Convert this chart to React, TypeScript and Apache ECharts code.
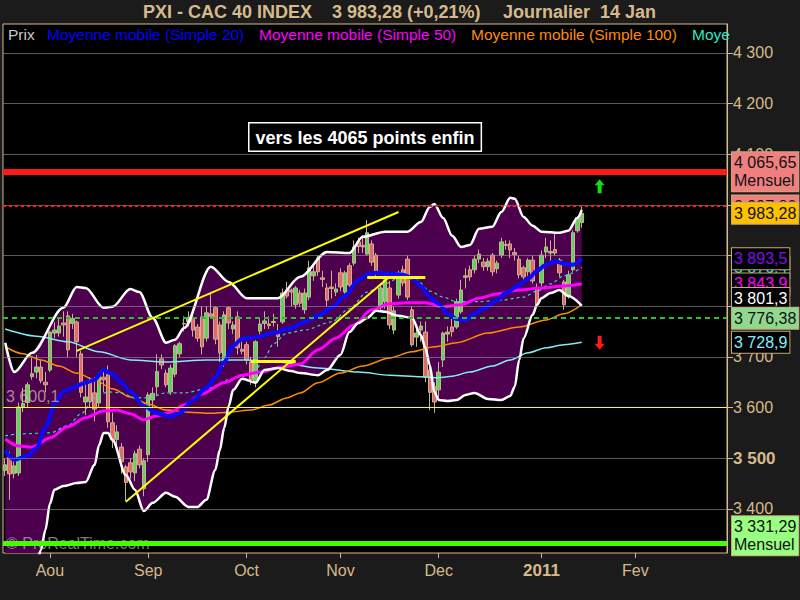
import React, { useEffect, useRef } from 'react';
import * as echarts from 'echarts';

const FONT = '"Liberation Sans", Arial, sans-serif';
const TAN = '#d6ba8c';
const TAG_BORDER = '#c8a878';

// ---- categories (trading days) ----
const startDate = '2010-07-19';
const slotCount = 162;
const lastLabelledSlot = 150;
const monthNames = ['', 'Fev', 'Mar', 'Avr', 'Mai', 'Jun', 'Jul', 'Aou', 'Sep', 'Oct', 'Nov', 'Dec'];

function buildTradingDays(start: string, count: number): string[] {
  const out: string[] = [];
  const d = new Date(start + 'T12:00:00Z');
  while (out.length < count) {
    const wd = d.getUTCDay();
    if (wd !== 0 && wd !== 6) out.push(d.toISOString().slice(0, 10));
    d.setUTCDate(d.getUTCDate() + 1);
  }
  return out;
}
const categories = buildTradingDays(startDate, slotCount);

// ---- price data ----
const open = [3476,3501,3470,3471,3600,3610,3661,3670,3680,3650,3674,3747,3747,3767,3781,3766,3769,3706,3611,3649,3629,3609,3660,3665,3570,3537,3522,3483,3491,3471,3518,3440,3507,3615,3641,3696,3668,3631,3666,3706,3766,3769,3777,3759,3779,3737,3785,3797,3763,3688,3797,3755,3779,3715,3724,3690,3649,3751,3766,3765,3770,3745,3769,3832,3832,3803,3826,3793,3818,3860,3895,3856,3836,3838,3828,3866,3828,3880,3885,3927,3920,3903,3923,3901,3797,3809,3836,3753,3822,3872,3893,3793,3739,3753,3749,3674,3641,3635,3694,3745,3759,3759,3789,3857,3872,3872,3893,3887,3878,3901,3874,3901,3922,3923,3906,3893,3876,3868,3891,3836,3846,3907,3908,3912,3891,3848,3822,3872,3949,3965];
const high = [3500,3513,3495,3610,3639,3650,3698,3704,3693,3670,3752,3768,3775,3790,3790,3785,3772,3712,3650,3660,3660,3670,3678,3683,3590,3565,3530,3487,3500,3515,3525,3500,3630,3640,3705,3705,3675,3685,3725,3730,3780,3790,3790,3765,3800,3800,3825,3800,3770,3790,3800,3770,3790,3730,3730,3700,3733,3775,3790,3780,3785,3765,3835,3848,3835,3840,3832,3835,3890,3880,3900,3870,3845,3870,3845,3875,3870,3885,3930,3935,3940,3970,3930,3905,3845,3860,3850,3800,3870,3880,3900,3800,3755,3770,3770,3680,3650,3690,3750,3760,3775,3815,3852,3875,3880,3900,3912,3895,3895,3905,3890,3935,3930,3930,3915,3900,3880,3895,3900,3845,3910,3935,3930,3945,3895,3852,3870,3950,3978,3997];
const low = [3465,3418,3460,3465,3591,3600,3655,3658,3648,3630,3670,3737,3740,3740,3700,3755,3700,3620,3585,3600,3573,3600,3630,3560,3520,3515,3470,3415,3460,3455,3480,3425,3493,3600,3625,3676,3640,3625,3660,3700,3750,3760,3740,3730,3705,3730,3775,3725,3690,3680,3755,3745,3705,3705,3685,3645,3640,3745,3755,3755,3760,3720,3765,3815,3800,3795,3800,3785,3812,3850,3860,3838,3800,3815,3820,3830,3825,3838,3880,3905,3905,3900,3880,3860,3790,3795,3755,3745,3815,3840,3812,3720,3720,3730,3650,3595,3590,3615,3680,3730,3740,3755,3785,3835,3850,3865,3885,3870,3870,3860,3865,3895,3912,3895,3890,3855,3850,3860,3845,3800,3840,3895,3890,3900,3858,3793,3815,3868,3945,3955];
const close = [3487,3469,3485,3601,3608,3645,3667,3680,3653,3645,3749,3753,3761,3763,3714,3776,3730,3630,3621,3612,3597,3661,3655,3572,3537,3552,3493,3452,3473,3509,3487,3495,3625,3628,3671,3684,3645,3678,3722,3726,3765,3777,3753,3737,3720,3787,3780,3735,3708,3783,3767,3763,3718,3711,3694,3655,3730,3765,3771,3762,3768,3740,3826,3820,3828,3836,3806,3826,3876,3868,3868,3853,3812,3835,3834,3838,3866,3842,3917,3918,3917,3945,3887,3866,3836,3852,3763,3791,3866,3846,3818,3724,3747,3761,3660,3630,3611,3670,3747,3749,3750,3809,3832,3860,3858,3893,3903,3878,3889,3868,3885,3927,3920,3911,3902,3862,3858,3891,3850,3803,3901,3917,3905,3905,3866,3803,3862,3945,3975,3983.28];

// ---- indicators, read as [day index, value] ----
const bbUpper = [[0,3728],[2,3670],[6,3708],[13,3797],[16,3838],[18,3836],[22,3797],[24,3799],[28,3834],[30,3828],[33,3777],[36,3728],[38,3734],[40,3757],[46,3878],[50,3848],[54,3816],[61,3816],[66,3858],[72,3907],[77,3905],[80,3937],[85,3947],[90,3947],[93,3966],[95,3996],[96,4002],[98,3974],[100,3939],[102,3917],[104,3921],[106,3953],[109,3957],[111,3986],[113,4014],[114,4012],[116,3976],[118,3959],[120,3947],[124,3945],[126,3949],[128,3974],[129,3990]];
const bbLower = [[0,3180],[4,3220],[7,3290],[8,3319],[9,3359],[10,3410],[11,3438],[13,3445],[16,3451],[18,3453],[20,3487],[21,3526],[22,3550],[23,3550],[24,3536],[27,3467],[29,3438],[31,3396],[33,3412],[36,3432],[38,3424],[41,3404],[43,3404],[45,3418],[47,3477],[48,3516],[49,3560],[50,3603],[51,3635],[53,3657],[56,3649],[58,3674],[61,3678],[64,3672],[66,3668],[70,3664],[72,3674],[75,3704],[77,3749],[79,3767],[81,3777],[83,3791],[85,3789],[88,3781],[91,3777],[93,3743],[94,3718],[95,3684],[96,3631],[97,3615],[99,3613],[101,3615],[103,3625],[105,3629],[108,3617],[111,3615],[113,3623],[114,3641],[115,3694],[116,3737],[118,3783],[119,3803],[120,3816],[122,3826],[124,3832],[126,3820],[129,3801.3]];
const ma20Pts = [[0,3516],[2,3497],[5,3505],[7,3520],[9,3560],[11,3607],[13,3631],[15,3639],[18,3649],[20,3655],[22,3674],[24,3666],[26,3649],[28,3631],[31,3603],[34,3589],[37,3582],[39,3589],[42,3615],[45,3639],[47,3659],[49,3690],[51,3722],[53,3736],[56,3739],[60,3747],[64,3757],[67,3769],[70,3781],[73,3797],[76,3820],[79,3852],[81,3862],[83,3866],[86,3864],[89,3862],[91,3856],[93,3840],[95,3818],[97,3805],[99,3785],[101,3775],[103,3773],[105,3785],[107,3795],[110,3812],[112,3826],[115,3842],[117,3854],[119,3870],[121,3882],[123,3889],[125,3884],[127,3882],[129,3893.5]];
const ma50Pts = [[0,3538],[3,3524],[6,3522],[10,3540],[14,3562],[18,3580],[22,3593],[25,3595],[28,3588],[31,3576],[34,3584],[37,3591],[40,3605],[44,3627],[49,3649],[53,3664],[57,3670],[62,3680],[66,3686],[70,3714],[74,3737],[78,3763],[82,3793],[86,3805],[90,3807],[94,3807],[98,3799],[102,3803],[106,3816],[110,3824],[115,3832],[120,3836],[125,3840],[129,3843.9]];
const ma100Pts = [[0,3720],[4,3706],[8,3694],[12,3682],[16,3668],[20,3655],[24,3637],[28,3621],[32,3607],[36,3595],[41,3591],[46,3589],[50,3591],[55,3595],[59,3605],[63,3619],[66,3629],[70,3649],[75,3668],[80,3682],[86,3698],[91,3710],[96,3720],[101,3728],[108,3747],[115,3759],[121,3773],[125,3785],[129,3803]];
const ma200Pts = [[0,3755],[7,3741],[14,3730],[21,3710],[28,3694],[36,3690],[45,3694],[54,3694],[61,3690],[70,3678],[79,3670],[86,3664],[93,3661],[97,3659],[100,3662],[104,3670],[109,3682],[113,3694],[117,3708],[121,3718],[125,3724],[129,3728.9]];
const dashedPts = [[0,3544],[3,3548],[10,3550],[14,3564],[17,3588],[20,3619],[23,3631],[26,3629],[29,3619],[32,3619],[36,3629],[40,3629],[46,3639],[50,3655],[53,3661],[56,3674],[58,3698],[60,3726],[63,3747],[67,3753],[73,3769],[77,3795],[81,3828],[85,3844],[88,3856],[92,3852],[95,3830],[98,3818],[101,3809],[106,3809],[111,3812],[116,3818],[119,3830],[122,3844],[125,3860],[129,3876.4]];

// ---- annotations ----
const yTicks = [3400, 3500, 3600, 3700, 3800, 3900, 4000, 4100, 4200, 4300];
const yTicksCoveredByTags = [3800, 3900, 4000];
const trendLines = [[16, 3712, 88, 3986, 2], [27, 3414, 86, 3858, 2], [55, 3692, 65, 3692, 3], [81, 3857, 94, 3857, 3]];
const monthlyHigh = 4065.65;
const resistance = 3997.8;
const supportGreen = 3776.38;
const supportYellow = 3600.1;
const monthlyLow = 3331.29;
const arrowsUp = [[133, 4037]];
const arrowsDown = [[133, 3728]];

const fmtFr = (v: number, d: number) => {
  const [i, f] = v.toFixed(d).split('.');
  const ii = i.replace(/\B(?=(\d{3})+(?!\d))/g, ' ');
  return f ? ii + ',' + f : ii;
};
const last = (a: number[][]) => a[a.length - 1][1];

const isMonthStart = (index: number) =>
  index > 0 && index <= lastLabelledSlot && categories[index].slice(5, 7) !== categories[index - 1].slice(5, 7);

const tag = (text: string, bg: string, color = '#111', extra: any = {}) => ({
  show: true,
  position: 'end',
  formatter: text,
  backgroundColor: bg,
  color,
  borderColor: TAG_BORDER,
  borderWidth: 1,
  padding: [2, 2, 1, 2],
  fontSize: 16,
  fontFamily: FONT,
  lineHeight: 18,
  distance: 5,
  ...extra,
});
const HIDDEN_LINE = { color: 'rgba(0,0,0,0)', width: 0 };
const ARROW = 'path://M5,0 L10,6 L7,6 L7,14 L3,14 L3,6 L0,6 Z';

export default function App() {
  const ref = useRef<HTMLDivElement>(null);
  useEffect(() => {
    if (!ref.current) return;
    const chart = echarts.init(ref.current, undefined, { renderer: 'svg' });

    const candleData = open.map((o, i) => [o, close[i], low[i], high[i]]);
    const lineS = (data: number[][], color: string, width: number, extra: any = {}) => ({
      type: 'line', data, symbol: 'none', showSymbol: false, silent: true, z: 3,
      smooth: 0.3, smoothMonotone: 'x',
      lineStyle: { color, width, ...extra },
    });

    const markLineData: any[] = [
      { yAxis: monthlyHigh, lineStyle: { color: '#ff1a1a', width: 6, type: 'solid' }, label: tag(fmtFr(monthlyHigh, 2) + '\nMensuel', '#f08080') },
      { yAxis: resistance, lineStyle: { color: '#ff2020', width: 2, type: [3, 3] }, label: tag(fmtFr(resistance, 2), '#f08080') },
      { yAxis: close[close.length - 1], lineStyle: HIDDEN_LINE, label: tag(fmtFr(close[close.length - 1], 2), '#ffc000') },
      { yAxis: last(dashedPts), lineStyle: HIDDEN_LINE, label: tag(fmtFr(last(dashedPts), 1), '#000', '#30e0c8') },
      { yAxis: last(ma20Pts), lineStyle: HIDDEN_LINE, label: tag(fmtFr(last(ma20Pts), 1), '#000', '#7a10e8') },
      { yAxis: last(ma50Pts), lineStyle: HIDDEN_LINE, label: tag(fmtFr(last(ma50Pts), 1), '#000', '#ff00ff') },
      { yAxis: last(bbLower), lineStyle: HIDDEN_LINE, label: tag(fmtFr(last(bbLower), 1), '#000', '#ffffff', { offset: [0, -7] }) },
      { yAxis: supportGreen, lineStyle: { color: '#2cc02c', width: 2, type: [5, 4] }, label: tag(fmtFr(supportGreen, 2), '#90d890') },
      { yAxis: last(ma200Pts), lineStyle: HIDDEN_LINE, label: tag(fmtFr(last(ma200Pts), 1), '#000', '#80f0ff') },
      { yAxis: supportYellow, lineStyle: { color: '#ffff00', width: 1, type: 'solid' },
        label: { show: true, position: 'insideStartTop', formatter: fmtFr(supportYellow, 1), color: 'rgba(200,188,175,0.75)', fontSize: 16, fontFamily: FONT, distance: 3 } },
      { yAxis: monthlyLow, lineStyle: { color: '#44ff00', width: 5, type: 'solid' }, label: tag(fmtFr(monthlyLow, 2) + '\nMensuel', '#98ff80', '#111', { offset: [0, -8] }) },
      ...trendLines.map(([k1, v1, k2, v2, w]) => [
        { coord: [k1, v1], lineStyle: { color: '#ffff00', width: w, type: 'solid' }, label: { show: false } },
        { coord: [k2, v2] },
      ]),
    ];

    const option: any = {
      animation: false,
      backgroundColor: '#1b1b1b',
      textStyle: { fontFamily: FONT },
      grid: { left: 3, right: 73, top: 24, bottom: 47, show: true, backgroundColor: '#000', borderColor: TAN, borderWidth: 1 },
      xAxis: {
        type: 'category', data: categories, boundaryGap: true,
        axisLine: { show: false },
        axisTick: { show: true, interval: isMonthStart, alignWithLabel: true, length: 5, lineStyle: { color: TAN } },
        axisLabel: {
          interval: isMonthStart, color: TAN, fontSize: 16, fontFamily: FONT, margin: 9,
          formatter: (v: string) => {
            const m = +v.slice(5, 7) - 1;
            return m === 0 ? '{b|' + v.slice(0, 4) + '}' : monthNames[m];
          },
          rich: { b: { fontWeight: 'bold', fontSize: 17, color: TAN, fontFamily: FONT } },
        },
        splitLine: { show: false },
      },
      yAxis: {
        type: 'value', position: 'right', min: 3313, max: 4357, splitNumber: 10,
        axisLine: { show: true, lineStyle: { color: TAN } },
        axisTick: { show: true, length: 6, lineStyle: { color: TAN } },
        axisLabel: {
          color: TAN, fontSize: 16, fontFamily: FONT, margin: 6, showMinLabel: false, showMaxLabel: false,
          formatter: (v: number) => {
            if (yTicksCoveredByTags.includes(v)) return '';
            return v === 3500 ? '{b|' + fmtFr(v, 0) + '}' : fmtFr(v, 0);
          },
          rich: { b: { fontWeight: 'bold', fontSize: 17, color: TAN, fontFamily: FONT } },
        },
        splitLine: { show: false },
      },
      series: [
        {
          type: 'custom', z: 1, silent: true, data: [[0, 3500]],
          renderItem: (params: any, api: any) => {
            const cs = params.coordSys;
            const cy = (y: number) => Math.max(cs.y, Math.min(cs.y + cs.height, y));
            const top = bbUpper.map(([k, v]) => { const p = api.coord([k, v]); return [p[0], cy(p[1])]; });
            const bot = bbLower.map(([k, v]) => { const p = api.coord([k, v]); return [p[0], cy(p[1])]; }).reverse();
            return { type: 'polygon', shape: { points: top.concat(bot) }, style: { fill: '#4c004e' } };
          },
        },
        {
          type: 'line', data: [[0, 3500]], symbol: 'none', silent: true, z: 1.5,
          lineStyle: { opacity: 0 },
          markLine: {
            silent: true, symbol: ['none', 'none'], animation: false,
            label: { show: false },
            lineStyle: { color: 'rgba(150,150,150,0.6)', width: 1, type: 'solid' },
            data: yTicks.map((t) => ({ yAxis: t })),
          },
        },
        {
          type: 'candlestick', data: candleData, z: 2, silent: true, barWidth: 4,
          itemStyle: { color: '#5fd35f', color0: '#e46a6a', borderColor: '#c9b28f', borderColor0: '#c9b28f', borderWidth: 1 },
        },
        lineS(ma200Pts, '#80ecf4', 1.5),
        lineS(ma100Pts, '#ff8c00', 1.5),
        lineS(dashedPts, '#30d8c8', 1.2, { type: [3, 3] }),
        lineS(ma50Pts, '#ff00ff', 3),
        lineS(ma20Pts, '#0a0aff', 4),
        lineS(bbUpper, '#ffffff', 2.5),
        lineS(bbLower, '#ffffff', 2.5),
        {
          type: 'line', data: [[0, 3500]], symbol: 'none', silent: true, z: 5,
          lineStyle: { opacity: 0 },
          markLine: { silent: true, symbol: ['none', 'none'], animation: false, data: markLineData },
          markPoint: {
            silent: true, animation: false,
            data: [
              ...arrowsUp.map(([k, v]) => ({ coord: [k, v], symbol: ARROW, symbolSize: [10, 14], itemStyle: { color: '#10e010' }, label: { show: false } })),
              ...arrowsDown.map(([k, v]) => ({ coord: [k, v], symbol: ARROW, symbolRotate: 180, symbolSize: [10, 14], itemStyle: { color: '#ff1a1a' }, label: { show: false } })),
            ],
          },
        },
      ],
      graphic: [
        { type: 'text', left: 143, top: 3, z: 10, style: { text: 'PXI - CAC 40 INDEX', fill: TAN, font: 'bold 18px ' + FONT } },
        { type: 'text', left: 332, top: 3, z: 10, style: { text: '3 983,28 (+0,21%)', fill: TAN, font: 'bold 18px ' + FONT } },
        { type: 'text', left: 503, top: 3, z: 10, style: { text: 'Journalier  14 Jan', fill: TAN, font: 'bold 18px ' + FONT } },
        { type: 'text', left: 8, top: 26, z: 10, style: { text: 'Prix', fill: '#c8c8c8', font: '15.5px ' + FONT } },
        { type: 'text', left: 47, top: 26, z: 10, style: { text: 'Moyenne mobile (Simple 20)', fill: '#0000ff', font: '15.5px ' + FONT } },
        { type: 'text', left: 259, top: 26, z: 10, style: { text: 'Moyenne mobile (Simple 50)', fill: '#ff00ff', font: '15.5px ' + FONT } },
        { type: 'text', left: 471, top: 26, z: 10, style: { text: 'Moyenne mobile (Simple 100)', fill: '#ff8c00', font: '15.5px ' + FONT } },
        { type: 'text', left: 692, top: 26, z: 10, style: { text: 'Moyenne mobile (Simple 200)', fill: '#30e8c8', font: '15.5px ' + FONT, width: 40, overflow: 'truncate', ellipsis: '' } },
        { type: 'text', left: 6, top: 535, z: 4, style: { text: '© ProRealTime.com', fill: 'rgba(210,210,210,0.6)', font: '16px ' + FONT } },
        { type: 'text', left: 248, top: 122, z: 100, style: { text: 'vers les 4065 points enfin', fill: '#ffffff', font: 'bold 18px ' + FONT, backgroundColor: '#000', borderColor: '#ffffff', borderWidth: 1.5, padding: [5, 6, 4, 6] } },
      ],
    };
    chart.setOption(option);
    return () => chart.dispose();
  }, []);
  return <div ref={ref} style={{ position: 'fixed', left: 0, top: 0, width: 800, height: 600 }} />;
}
